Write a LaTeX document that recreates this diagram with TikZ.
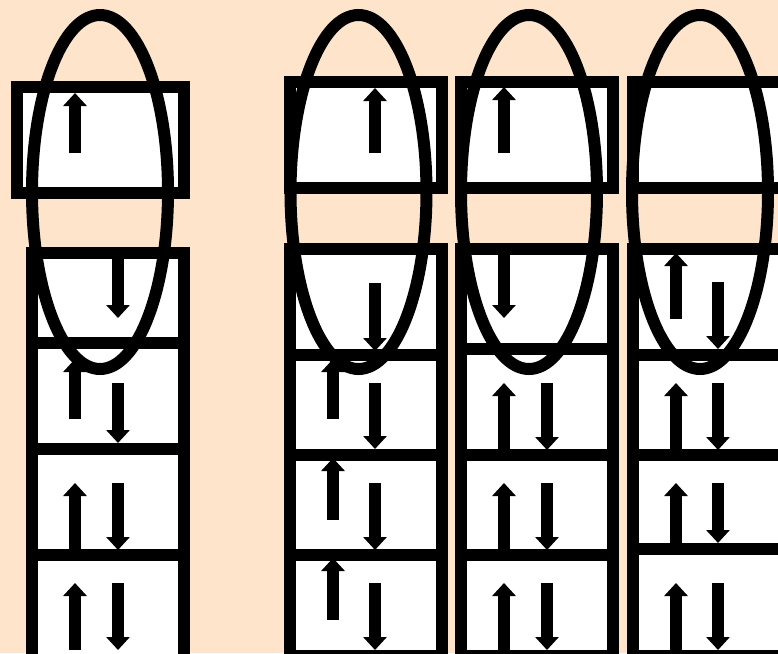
\documentclass[tikz,border=0pt]{standalone}
\usetikzlibrary{arrows.meta}
\definecolor{peach}{RGB}{255,228,204}
\tikzset{cell/.style={draw=black,fill=white,line width=12pt},
	orb/.style={draw=black,line width=12pt},
	spin/.style={line width=12pt,line cap=butt,-{Triangle[width=23pt,length=13pt]}}}
\begin{document}
\begin{tikzpicture}[x=1pt,y=-1pt,line join=miter]
	\fill[peach] (0,0) rectangle (778,653);
	\useasboundingbox (0,0) rectangle (778,653);
	\clip (0,0) rectangle (778,653);
	\coordinate (O1)at(100,192);
	\coordinate (O2)at(358.5,192);
	\coordinate (O3)at(529,192);
	\coordinate (O4)at(700,192);
	% cot 1
	\draw[cell] (17,87) rectangle (184,193);
	\foreach \a/\b in {253/343,343/449,449/555,555/661}
		\draw[cell] (32,\a) rectangle (184,\b);
	\draw[spin] (75,153)--(75,93);
	\draw[spin] (118,259)--(118,318);
	\draw[spin] (75,419)--(75,359);
	\draw[spin] (118,383)--(118,443);
	\draw[spin] (75,550)--(75,483);
	\draw[spin] (118,483)--(118,550);
	\draw[spin] (75,650)--(75,583);
	\draw[spin] (118,583)--(118,650);
	% cot 2
	\draw[cell] (289.5,82) rectangle (441.5,188);
	\foreach \a/\b in {249/355,355/455,455/555,555/656}
		\draw[cell] (289.5,\a) rectangle (441.5,\b);
	\draw[spin] (375,153)--(375,88);
	\draw[spin] (375,283)--(375,351);
	\draw[spin] (333,419)--(333,359);
	\draw[spin] (375,383)--(375,449);
	\draw[spin] (333,520)--(333,458);
	\draw[spin] (375,483)--(375,550);
	\draw[spin] (333,620)--(333,558);
	\draw[spin] (375,583)--(375,650);
	% cot 3
	\draw[cell] (461,82) rectangle (613,188);
	\foreach \a/\b in {249/349,349/455,455/555,555/656}
		\draw[cell] (461,\a) rectangle (613,\b);
	\draw[spin] (504,153)--(504,87);
	\draw[spin] (504,254)--(504,318);
	\foreach \a/\b in {383/450,483/550,583/650}{
		\draw[spin] (504,\b)--(504,\a);
		\draw[spin] (547,\a)--(547,\b);}
	% cot 4
	\draw[cell] (632.5,82) rectangle (784.5,188);
	\foreach \a/\b in {249/355,355/455,455/549,549/656}
		\draw[cell] (632.5,\a) rectangle (784.5,\b);
	\draw[spin] (676,319)--(676,253);
	\draw[spin] (718,282)--(718,349);
	\foreach \a/\b in {383/450,483/543,583/650}{
		\draw[spin] (676,\b)--(676,\a);
		\draw[spin] (718,\a)--(718,\b);}
	% vong elip
	\foreach \o in {O1,O2,O3,O4}
		\draw[orb] (\o) ellipse (68pt and 177pt);
\end{tikzpicture}
\end{document}
